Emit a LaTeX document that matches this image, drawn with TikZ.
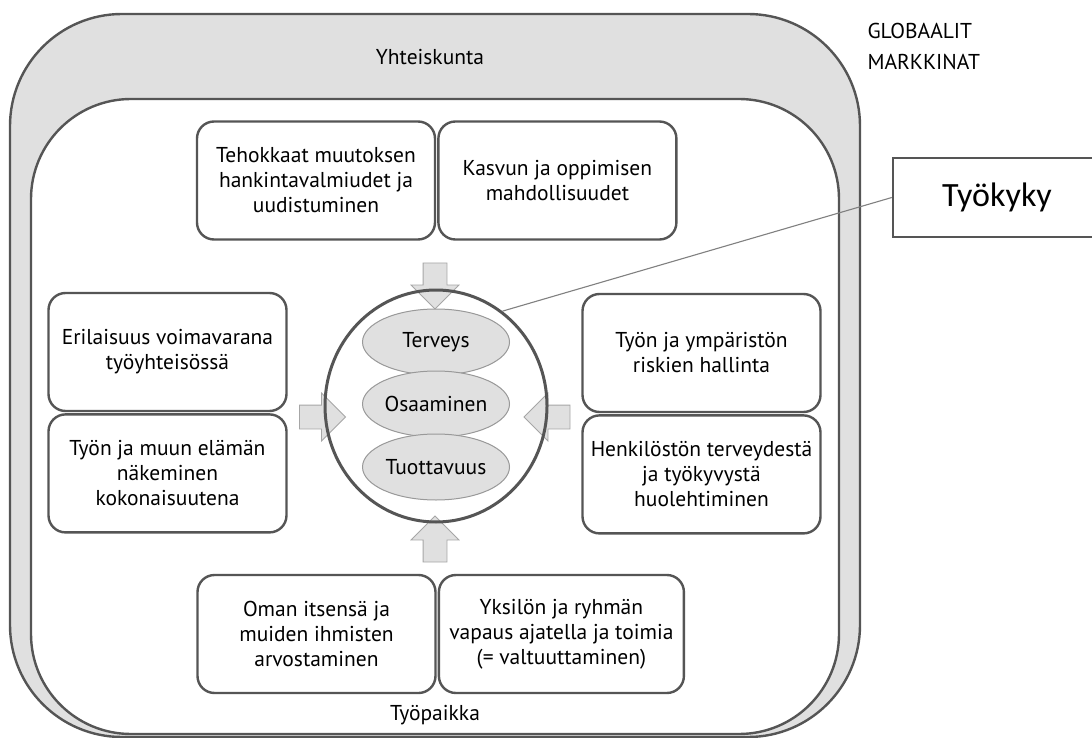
\documentclass[tikz,border=0pt]{standalone}
\usepackage{fontspec}
\setmainfont{PT Sans}
\newfontfamily\calibri{Carlito}
\usetikzlibrary{positioning,shapes.geometric,shapes.arrows}
\definecolor{edge}{HTML}{555555}
\definecolor{shade}{HTML}{E0E0E0}
\tikzstyle{frame}=[draw=edge, line width=2.4pt]
\tikzstyle{box}=[rectangle, rounded corners=17pt, draw=edge, line width=2.4pt, fill=white, minimum width=238pt, minimum height=118pt, inner sep=0pt, align=center, font=\fontsize{21.5}{25}\selectfont]
\tikzstyle{annot}=[align=center, font=\fontsize{21.5}{25}\selectfont]
\tikzstyle{part}=[ellipse, draw=gray!80, fill=shade, line width=1pt, minimum width=147pt, minimum height=66pt, inner sep=0pt, font=\fontsize{21.5}{25}\selectfont]
\tikzstyle{flow}=[single arrow, draw=gray!70, fill=shade, line width=0.8pt, inner xsep=0pt, inner ysep=11.5pt, single arrow head extend=12pt, minimum height=46pt]
\begin{document}
\begin{tikzpicture}[x=1pt,y=-1pt]
	\useasboundingbox (0,0) rectangle (1092,738);
	\clip (0,0) rectangle (1092,738);

	\draw[frame, fill=shade, rounded corners=112pt] (10,14) rectangle (860,737);
	\draw[frame, fill=white, rounded corners=100pt] (31,99) rectangle (839,734);

	\node[annot] (yhteiskunta) at (430,57) {Yhteiskunta};
	\node[annot, align=left, anchor=west, font=\fontsize{21.5}{31}\selectfont] (markkinat) at (864,46) {GLOBAALIT\\MARKKINAT};
	\node[annot] (tyopaikka) at (435,715) {Työpaikka};

	\node[box] (tehokkaat) at (316,180.5) {Tehokkaat muutoksen\\hankintavalmiudet ja\\uudistuminen};
	\node[box, right=1pt of tehokkaat] (kasvu) {Kasvun ja oppimisen\\mahdollisuudet};
	\node[box] (erilaisuus) at (167.5,352) {Erilaisuus voimavarana\\työyhteisössä};
	\node[box, below=1pt of erilaisuus] (elama) {Työn ja muun elämän\\näkeminen\\kokonaisuutena};
	\node[box] (riskit) at (701.5,353) {Työn ja ympäristön\\riskien hallinta};
	\node[box, below=1pt of riskit] (henkilosto) {Henkilöstön terveydestä\\ja työkyvystä\\huolehtiminen};
	\node[box] (oman) at (316.5,634) {Oman itsensä ja\\muiden ihmisten\\arvostaminen};
	\node[box, right=1pt of oman, minimum width=245pt] (yksilo) {Yksilön ja ryhmän\\vapaus ajatella ja toimia\\(= valtuuttaminen)};

	\node[flow, rotate=-90] (aup) at (435,280) {};
	\node[flow, rotate=90] (adown) at (435,545) {};
	\node[flow] (aleft) at (316.5,417) {};
	\node[flow, rotate=180] (aright) at (553,417) {};

	\node[ellipse, draw=edge, line width=3pt, minimum width=222pt, minimum height=232pt] (core) at (436,406) {};
	\node[part] (terveys) at (436,342) {Terveys};
	\node[part] (osaaminen) at (436,404) {Osaaminen};
	\node[part] (tuottavuus) at (436,467) {Tuottavuus};

	\node[rectangle, draw=edge, line width=2.4pt, fill=white, minimum width=208pt, minimum height=79pt, font=\calibri\fontsize{34}{40}\selectfont] (kyky) at (997,197.5) {Työkyky};
	\draw[gray, line width=1.1pt] (kyky.west) -- (core.55);
\end{tikzpicture}
\end{document}
